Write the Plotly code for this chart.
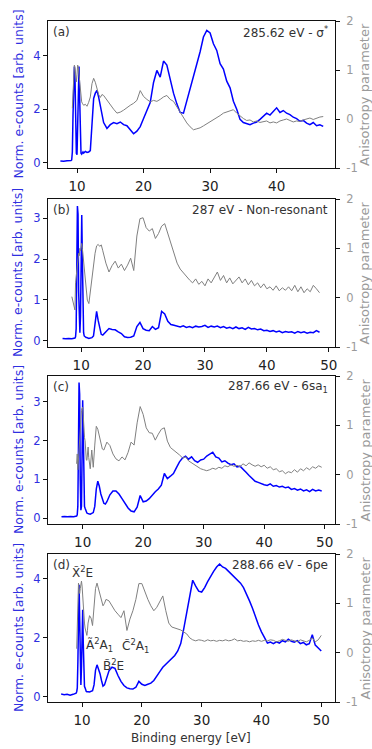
import plotly.graph_objects as go

# ---------------- data ----------------
# common binding-energy grid [eV]
energy = ([6.5, 7.0, 7.5, 8.0, 8.5] +
          [9.0, 9.1, 9.2, 9.3, 9.4, 9.5, 9.6, 9.7, 9.8, 9.9, 10.0, 10.1, 10.2, 10.3, 10.4, 10.5, 10.6, 10.7, 10.8, 10.9, 11.0] +
          [11.25, 11.5, 11.75, 12.0, 12.25, 12.5, 12.75, 13.0, 13.25, 13.5, 13.75, 14.0] +
          [14.5, 15.0, 15.5, 16.0, 16.5, 17.0, 17.5, 18.0, 18.5, 19.0,
           19.5, 20.0, 20.5, 21.0, 21.5, 22.0, 22.5, 23.0, 23.5, 24.0,
           24.5, 25.0, 25.5, 26.0, 26.5, 27.0, 27.5, 28.0, 28.5, 29.0,
           29.5, 30.0, 30.5, 31.0, 31.5, 32.0, 32.5, 33.0, 33.5, 34.0,
           34.5, 35.0, 35.5, 36.0, 36.5, 37.0, 37.5, 38.0, 38.5, 39.0,
           39.5, 40.0, 40.5, 41.0, 41.5, 42.0, 42.5, 43.0, 43.5, 44.0,
           44.5, 45.0, 45.5, 46.0, 46.5, 47.0, 47.5, 48.0, 48.5, 49.0,
           49.5, 50.0, 50.5])
N = None

# (a) 285.62 eV
counts_a = ([N, N, 0.06, 0.05, 0.07] +
            [0.06, 0.08, 0.1, 0.4, 1.8, 3.4, 3.6, 3.1, 1.2, 0.35, 0.3, 1.5, 3.5, 3.6, 2.4, 0.7, 0.35, 0.32, 0.38, 0.4, 0.36] +
            [0.42, 0.38, 0.4, 0.45, 1.6, 2.4, 2.6, 2.7, 2.45, 2.1, 1.75, 1.5] +
            [1.28, 1.42, 1.5, 1.46, 1.52, 1.42, 1.38, 1.22, 1.08, 1.18,
             1.35, 1.65, 1.95, 2.25, 3.0, 3.45, 3.2, 3.8, 3.65, 3.1,
             2.6, 2.2, 1.88, 1.85, 2.3, 2.75, 3.2, 3.7, 4.15, 4.7,
             4.95, 4.85, 4.45, 4.2, 3.7, 3.5, 3.05, 2.8, 2.3, 2.0,
             1.62, 1.5, 1.45, 1.42, 1.48, 1.52, 1.62, 1.72, 1.85, 1.78,
             1.9, 2.05, 1.88, 1.95, 1.85, 1.8, 1.7, 1.65, 1.55, 1.58,
             1.48, 1.42, 1.5, 1.38, 1.42, 1.36, N, N, N, N,
             N, N, N])
beta_a = ([N, N, N, N, N] +
          [N, N, N, 0.22, 0.6, 1.0, 1.1, 1.05, 0.85, 0.76, 0.9, 1.1, 1.05, 0.9, 0.7, 0.5, 0.4, 0.35, 0.32, 0.3, 0.28] +
          [0.3, 0.26, 0.34, 0.45, 0.72, 0.83, 0.75, 0.6, 0.5, 0.44, 0.5, 0.48] +
          [0.38, 0.28, 0.2, 0.12, 0.14, 0.18, 0.24, 0.28, 0.32, 0.38,
           0.58, 0.46, 0.4, 0.35, 0.38, 0.36, 0.4, 0.45, 0.48, 0.4,
           0.36, 0.25, 0.15, 0.05, -0.08, -0.16, -0.22, -0.2, -0.18, -0.14,
           -0.1, -0.06, -0.02, 0.02, 0.07, 0.12, 0.14, 0.17, 0.19, 0.12,
           0.06, 0.01, -0.03, -0.02, -0.06, -0.04, -0.07, -0.05, -0.04, -0.08,
           -0.06, -0.08, -0.04, -0.02, 0.0, -0.03, -0.06, -0.04, -0.05, -0.02,
           0.0, 0.02, -0.01, 0.02, 0.04, 0.05, N, N, N, N,
           N, N, N])

# (b) 287 eV
counts_b = ([N, 0.06, 0.05, 0.06, 0.05] +
            [0.07, 0.1, 0.3, 1.6, 3.3, 3.1, 1.2, 0.3, 0.2, 0.6, 2.4, 3.08, 2.0, 0.6, 0.2, 0.12, 0.1, 0.09, 0.08, 0.08, 0.07] +
            [0.06, 0.07, 0.08, 0.12, 0.45, 0.72, 0.5, 0.28, 0.16, 0.14, 0.18, 0.24] +
            [0.3, 0.28, 0.27, 0.22, 0.18, 0.1, 0.08, 0.09, 0.12, 0.35,
             0.45, 0.3, 0.26, 0.25, 0.35, 0.28, 0.32, 0.72, 0.66, 0.48,
             0.4, 0.38, 0.36, 0.34, 0.37, 0.33, 0.35, 0.32, 0.36, 0.34,
             0.35, 0.38, 0.33, 0.36, 0.34, 0.36, 0.32, 0.35, 0.31, 0.33,
             0.3, 0.34, 0.3, 0.32, 0.28, 0.33, 0.29, 0.3, 0.27, 0.29,
             0.25, 0.26, 0.23, 0.25, 0.22, 0.24, 0.2, 0.23, 0.21, 0.22,
             0.19, 0.23, 0.2, 0.22, 0.19, 0.21, 0.2, 0.25, 0.21, N,
             N, N, N])
beta_b = ([N, N, N, N, 0.02] +
          [-0.25, 0.3, 0.45, 0.55, 0.62, 0.8, 0.9, 0.85, 1.0, 0.95, 1.05, 1.1, 1.0, 0.85, 0.7, 0.55, 0.4, 0.25, 0.1, 0.0, -0.05] +
          [-0.12, 0.15, 0.4, 0.7, 0.9, 1.05, 1.08, 1.04, 1.07, 0.95, 0.82, 0.7] +
          [0.52, 0.65, 0.74, 0.6, 0.68, 0.55, 0.66, 0.8, 0.55, 1.25,
           1.6, 1.62, 1.42, 1.35, 1.4, 1.2, 1.3, 1.45, 1.5, 1.3,
           1.1, 0.88, 0.7, 0.58, 0.5, 0.42, 0.36, 0.3, 0.38, 0.27,
           0.33, 0.24, 0.38, 0.3, 0.42, 0.52, 0.35, 0.45, 0.3, 0.4,
           0.28, 0.36, 0.42, 0.3, 0.38, 0.26, 0.35, 0.24, 0.3, 0.2,
           0.28, 0.18, 0.22, 0.15, 0.24, 0.14, 0.2, 0.15, 0.22, 0.14,
           0.25, 0.12, 0.22, 0.1, 0.18, 0.12, 0.25, 0.18, 0.1, N,
           N, N, N])

# (c) 287.66 eV
counts_c = ([0.03, 0.04, 0.03, 0.04, 0.03] +
            [0.05, 0.08, 0.3, 1.8, 3.5, 3.2, 1.0, 0.2, 0.3, 1.6, 3.04, 2.2, 0.7, 0.3, 0.25, 0.2, 0.16, 0.13, 0.12, 0.11, 0.11] +
            [0.1, 0.12, 0.14, 0.3, 0.75, 0.95, 0.82, 0.62, 0.48, 0.38, 0.36, 0.42] +
            [0.6, 0.7, 0.7, 0.62, 0.5, 0.38, 0.26, 0.18, 0.16, 0.28,
             0.58, 0.42, 0.44, 0.5, 0.6, 0.68, 0.75, 0.85, 1.15, 1.02,
             1.08, 1.15, 1.3, 1.45, 1.55, 1.6, 1.52, 1.58, 1.48, 1.44,
             1.5, 1.52, 1.6, 1.64, 1.7, 1.58, 1.55, 1.45, 1.48, 1.42,
             1.38, 1.4, 1.32, 1.34, 1.25, 1.18, 1.1, 1.02, 0.95, 0.92,
             0.88, 0.86, 0.84, 0.88, 0.82, 0.84, 0.8, 0.82, 0.78, 0.8,
             0.74, 0.76, 0.72, 0.75, 0.7, 0.73, 0.68, 0.74, 0.7, 0.72,
             0.7, N, N])
beta_c = ([N, N, N, N, N] +
          [0.22, 0.42, 0.1, 0.3, 0.55, 0.8, 1.0, 1.2, 1.3, 1.35, 1.37, 1.2, 0.9, 0.75, 0.69, 0.45, 0.3, 0.29, 0.45, 0.56, 0.35] +
          [0.12, 0.5, 0.15, 0.6, 0.98, 0.92, 0.8, 0.65, 0.52, 0.5, 0.6, 0.66] +
          [0.59, 0.42, 0.32, 0.28, 0.36, 0.3, 0.45, 0.66, 0.6, 1.05,
           1.38, 1.22, 0.95, 0.85, 0.84, 0.7, 0.82, 0.92, 0.95, 0.68,
           0.55, 0.5, 0.46, 0.4, 0.34, 0.36, 0.28, 0.24, 0.2, 0.16,
           0.12, 0.1, 0.08, 0.1, 0.13, 0.11, 0.15, 0.13, 0.18, 0.16,
           0.2, 0.17, 0.19, 0.16, 0.22, 0.18, 0.24, 0.2, 0.17, 0.2,
           0.16, 0.19, 0.13, 0.16, 0.1, 0.12, 0.06, 0.08, 0.02, 0.06,
           0.04, 0.1, 0.05, 0.12, 0.08, 0.14, 0.1, 0.16, 0.13, 0.18,
           0.15, N, N])

# (d) 288.66 eV
counts_d = ([0.09, 0.07, 0.08, 0.05, 0.08] +
            [0.12, 0.17, 0.3, 1.2, 3.0, 3.8, 2.6, 0.8, 0.4, 1.0, 2.5, 2.95, 1.8, 0.6, 0.35, 0.3, 0.22, 0.18, 0.17, 0.16, 0.17] +
            [0.16, 0.18, 0.2, 0.4, 0.9, 1.08, 0.95, 0.78, 0.55, 0.36, 0.4, 0.58] +
            [0.88, 1.0, 0.96, 0.72, 0.52, 0.38, 0.3, 0.27, 0.26, 0.32,
             0.52, 0.42, 0.38, 0.42, 0.46, 0.55, 0.72, 0.85, 1.0, 1.1,
             1.2, 1.28, 1.4, 1.55, 1.8, 2.3, 2.9, 3.5, 3.95, 3.75,
             3.58, 3.55, 3.7, 3.9, 4.1, 4.25, 4.4, 4.5, 4.4, 4.35,
             4.25, 4.15, 4.05, 3.95, 3.85, 3.7, 3.5, 3.25, 3.0, 2.7,
             2.43, 2.2, 1.98, 1.82, 1.85, 1.8, 1.86, 1.82, 1.9, 1.86,
             1.95, 1.88, 1.85, 1.9, 1.8, 1.84, 1.76, 1.8, 2.1, 1.75,
             1.65, 1.55, N])
beta_d = ([N, N, N, N, N] +
          [N, 0.08, 0.6, 1.2, 1.41, 1.3, 1.2, 1.3, 1.4, 1.45, 1.35, 1.1, 0.9, 0.75, 0.6, 0.5, 0.42, 0.38, 0.35, 0.45, 0.6] +
          [0.75, 0.7, 0.55, 0.9, 1.3, 1.41, 1.3, 1.2, 1.1, 0.95, 1.0, 1.08] +
          [1.05, 0.95, 0.85, 0.78, 0.71, 0.85, 0.45, 0.68, 0.85, 1.08,
           1.4, 1.4, 1.22, 1.08, 0.95, 0.85, 0.92, 1.05, 1.15, 0.85,
           0.6, 0.52, 0.5, 0.48, 0.46, 0.42, 0.38, 0.3, 0.26, 0.24,
           0.26, 0.25, 0.23, 0.26, 0.24, 0.25, 0.23, 0.25, 0.24, 0.26,
           0.24, 0.25, 0.28, 0.24, 0.25, 0.23, 0.24, 0.22, 0.24, 0.23,
           0.25, 0.23, 0.25, 0.24, 0.26, 0.25, 0.22, 0.24, 0.27, 0.25,
           0.23, 0.26, 0.24, 0.22, 0.26, 0.24, 0.22, 0.25, 0.3, 0.22,
           0.26, 0.35, N])

panel_labels = ["(a)", "(b)", "(c)", "(d)"]
panel_titles = ["285.62 eV - σ<sup>*</sup>", "287 eV - Non-resonant",
                "287.66 eV - 6sa<sub>1</sub>", "288.66 eV - 6pe"]
state_labels = ["X̃<sup>2</sup>E", "Ã<sup>2</sup>A<sub>1</sub>", "B̃<sup>2</sup>E", "C̃<sup>2</sup>A<sub>1</sub>"]
state_x = [10.0, 12.9, 15.3, 18.9]
state_y = [4.24, 1.75, 1.08, 1.72]

counts = [counts_a, counts_b, counts_c, counts_d]
betas = [beta_a, beta_b, beta_c, beta_d]

# ---------------- layout geometry ----------------
W, H = 372, 749
FONT = "DejaVu Sans"
BLUE = "#0000ff"
BLUE_TXT = "#2f2fe0"
GREY = "#808080"
GREY_TXT = "#9a9a9a"

x_px = (48, 335)
panel_px = [(21, 168), (199, 347), (376, 524), (554, 702)]
x_ranges = [[5.64, 48.77], [4.65, 51.0], [4.27, 51.7], [4.3, 52.3]]
x_ticks = [[10, 20, 30, 40], [10, 20, 30, 40, 50], [10, 20, 30, 40, 50], [10, 20, 30, 40, 50]]
yl_ranges = [[-0.2, 5.3], [-0.15, 3.47], [-0.155, 3.67], [-0.18, 4.84]]
yl_ticks = [[0, 2, 4], [0, 1, 2, 3], [0, 1, 2, 3], [0, 2, 4]]

xd = [x_px[0] / W, x_px[1] / W]

fig = go.Figure()
layout = dict(width=W, height=H, margin=dict(l=0, r=0, t=0, b=0, autoexpand=False),
              paper_bgcolor="white", plot_bgcolor="white", showlegend=False,
              font=dict(family=FONT, size=11, color="#222"))
annotations = []

for i in range(4):
    top, bot = panel_px[i]
    yd = [1 - bot / H, 1 - top / H]
    xn = "x" if i == 0 else f"x{i + 1}"
    yl = "y" if i == 0 else f"y{2 * i + 1}"
    yr = f"y{2 * i + 2}"
    xkey = "xaxis" if i == 0 else f"xaxis{i + 1}"
    ylkey = "yaxis" if i == 0 else f"yaxis{2 * i + 1}"
    yrkey = f"yaxis{2 * i + 2}"

    fig.add_trace(go.Scatter(x=energy, y=counts[i], xaxis=xn, yaxis=yl, mode="lines",
                             line=dict(color=BLUE, width=1.5), connectgaps=False))
    fig.add_trace(go.Scatter(x=energy, y=betas[i], xaxis=xn, yaxis=yr, mode="lines",
                             line=dict(color=GREY, width=1.0), connectgaps=False))

    layout[xkey] = dict(domain=xd, anchor=yl, range=x_ranges[i], tickvals=x_ticks[i],
                        showline=True, mirror=True, linecolor="#111", linewidth=1,
                        ticks="outside", ticklen=4, tickcolor="#111", showgrid=False,
                        zeroline=False, tickfont=dict(size=13.5, color="#222"),
                        ticklabelstandoff=2)
    layout[ylkey] = dict(domain=yd, anchor=xn, range=yl_ranges[i], tickvals=yl_ticks[i],
                         showline=True, mirror=True, linecolor="#111", linewidth=1,
                         ticks="outside", ticklen=4, tickcolor="#111", showgrid=False,
                         zeroline=False, tickfont=dict(size=11.5, color=BLUE_TXT))
    layout[yrkey] = dict(overlaying=yl, anchor=xn, side="right", range=[-1, 2],
                         tickvals=[-1, 0, 1, 2], ticktext=["-1", "0", "1", "2"],
                         showline=False, ticks="outside", ticklen=4, tickcolor="#111",
                         showgrid=False, zeroline=False,
                         tickfont=dict(size=11.5, color=GREY_TXT), ticklabelstandoff=4)

    ymid = 1 - (top + bot) / 2 / H
    annotations.append(dict(xref="paper", yref="paper", x=18 / W, y=ymid, text="Norm. e-counts [arb. units]",
                            textangle=-90, showarrow=False, xanchor="center", yanchor="middle",
                            font=dict(size=12.5, color=BLUE_TXT)))
    annotations.append(dict(xref="paper", yref="paper", x=364.5 / W, y=ymid, text="Anisotropy parameter",
                            textangle=-90, showarrow=False, xanchor="center", yanchor="middle",
                            font=dict(size=13, color=GREY_TXT)))
    annotations.append(dict(xref="paper", yref="paper", x=51 / W, y=1 - (top + 11) / H, text=panel_labels[i],
                            showarrow=False, xanchor="left", yanchor="middle",
                            font=dict(size=12, color="#333")))
    annotations.append(dict(xref="paper", yref="paper", x=330 / W, y=1 - (top + 11) / H, text=panel_titles[i],
                            showarrow=False, xanchor="right", yanchor="middle",
                            font=dict(size=12, color="#333")))

# state labels in panel (d)
for s, sx, sy in zip(state_labels, state_x, state_y):
    annotations.append(dict(xref="x4", yref="y7", x=sx, y=sy, text=s, showarrow=False,
                            xanchor="center", yanchor="middle", font=dict(size=12, color="#333")))

annotations.append(dict(xref="paper", yref="paper", x=191 / W, y=1 - 738 / H, text="Binding energy [eV]",
                        showarrow=False, xanchor="center", yanchor="middle",
                        font=dict(size=12, color="#333")))
layout["annotations"] = annotations
fig.update_layout(**layout)
fig.write_html("out.html", config={"displayModeBar": False},
               post_script="document.body.style.margin='0px';")
